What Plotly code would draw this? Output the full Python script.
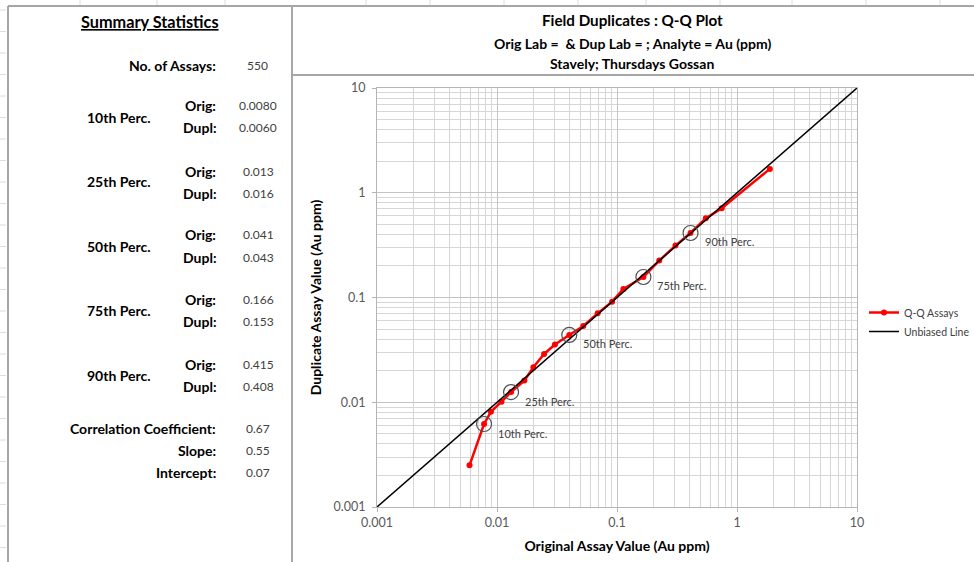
import math
import plotly.graph_objects as go

# ---------------- data ----------------
orig_vals = [0.0059, 0.0078, 0.0089, 0.0109, 0.0131, 0.0169, 0.0201, 0.0247, 0.0304, 0.0400,
             0.0524, 0.069, 0.091, 0.113, 0.166, 0.225, 0.307, 0.410, 0.55, 0.746, 1.88]
dupl_vals = [0.0025, 0.0062, 0.0081, 0.0101, 0.0125, 0.0161, 0.0216, 0.0289, 0.0356, 0.0439,
             0.0534, 0.0706, 0.0912, 0.1205, 0.157, 0.225, 0.313, 0.413, 0.570, 0.711, 1.69]

pct_labels = ["10th Perc.", "25th Perc.", "50th Perc.", "75th Perc.", "90th Perc."]
pct_orig = [0.0078, 0.0131, 0.0400, 0.166, 0.410]
pct_dupl = [0.0062, 0.0125, 0.0439, 0.157, 0.413]

unbiased_x = [0.001, 10]
unbiased_y = [0.001, 10]

tick_vals = [0.001, 0.01, 0.1, 1, 10]
tick_text = ["0.001", "0.01", "0.1", "1", "10"]

stat_groups = ["10th Perc.", "25th Perc.", "50th Perc.", "75th Perc.", "90th Perc."]
stat_orig_txt = ["0.0080", "0.013", "0.041", "0.166", "0.415"]
stat_dupl_txt = ["0.0060", "0.016", "0.043", "0.153", "0.408"]
n_assays = "550"
extra_labels = ["Correlation Coefficient:", "Slope:", "Intercept:"]
extra_values = ["0.67", "0.55", "0.07"]

title_main = "Field Duplicates : Q-Q Plot"
title_sub1 = "Orig Lab =  & Dup Lab = ; Analyte = Au (ppm)"
title_sub2 = "Stavely; Thursdays Gossan"

# ---------------- layout helpers ----------------
W, H = 974, 562
FONT = "Lato"
def px(x):
    return x / W
def py(y):
    return 1 - y / H

minor_vals = [k * 10 ** e for e in range(-3, 1) for k in range(2, 10)]

fig = go.Figure()

fig.add_trace(go.Scatter(
    x=orig_vals, y=dupl_vals, mode="lines+markers", name="Q-Q Assays",
    line=dict(color="#ff0000", width=2.5),
    marker=dict(color="#ff0000", size=6, symbol="circle"),
))
fig.add_trace(go.Scatter(
    x=unbiased_x, y=unbiased_y, mode="lines", name="Unbiased Line",
    line=dict(color="#000000", width=1.5),
))
fig.add_trace(go.Scatter(
    x=pct_orig, y=pct_dupl, mode="markers", showlegend=False,
    marker=dict(symbol="circle-open", size=15, color="#505050", line=dict(width=1.2)),
))

for lab, xv, yv in zip(pct_labels, pct_orig, pct_dupl):
    fig.add_annotation(x=math.log10(xv), y=math.log10(yv), xref="x", yref="y", text=lab,
                       showarrow=False, xanchor="left", yanchor="middle", xshift=12, yshift=-9,
                       font=dict(family=FONT, size=11, color="#404040"))

axis_common = dict(
    type="log", range=[-3, 1], tickvals=tick_vals, ticktext=tick_text,
    showgrid=True, gridcolor="#c4c4c4", gridwidth=1,
    minor=dict(tickvals=minor_vals, showgrid=True, gridcolor="#d6d6d6", gridwidth=1),
    showline=True, linecolor="#b5b5b5", linewidth=1, mirror=True,
    ticks="outside", ticklen=4, tickcolor="#b5b5b5",
    tickfont=dict(family=FONT, size=12.5, color="#595959"),
    zeroline=False, automargin=False,
)

fig.update_layout(
    width=W, height=H,
    margin=dict(l=0, r=0, t=0, b=0, autoexpand=False),
    paper_bgcolor="white", plot_bgcolor="white",
    xaxis=dict(domain=[px(377), px(857)], **axis_common,
               title=dict(text="<b>Original Assay Value (Au ppm)</b>", standoff=12,
                          font=dict(family=FONT, size=14, color="#000000"))),
    yaxis=dict(domain=[py(507), py(88)], **axis_common, ticklabelstandoff=4,
               title=dict(text="<b>Duplicate Assay Value (Au ppm)</b>", standoff=8,
                          font=dict(family=FONT, size=14, color="#000000"))),
    legend=dict(x=px(864), y=py(298), xanchor="left", yanchor="top",
                font=dict(family=FONT, size=10.5, color="#404040"),
                itemwidth=30, bgcolor="rgba(0,0,0,0)"),
    font=dict(family=FONT),
)

# ---------------- panel borders & sheet cell marks ----------------
border = dict(color="#a6a6a6", width=2)
shapes = [
    dict(type="line", xref="paper", yref="paper", x0=px(8), x1=px(974), y0=py(6), y1=py(6), line=border),
    dict(type="line", xref="paper", yref="paper", x0=px(8), x1=px(8), y0=py(6), y1=py(562), line=border),
    dict(type="line", xref="paper", yref="paper", x0=px(292), x1=px(292), y0=py(6), y1=py(562), line=border),
    dict(type="line", xref="paper", yref="paper", x0=px(292), x1=px(974), y0=py(75), y1=py(75), line=border),
]
cell_mark = dict(color="#dcdcdc", width=1)
row_y = [10 + 21.5 * i for i in range(26)]
for ry in row_y:
    shapes.append(dict(type="line", xref="paper", yref="paper", x0=px(0), x1=px(6),
                       y0=py(ry), y1=py(ry), line=cell_mark))
col_x = [80, 157, 225, 366, 430, 504, 578, 646, 720, 792, 866, 940]
for cx in col_x:
    shapes.append(dict(type="line", xref="paper", yref="paper", x0=px(cx), x1=px(cx),
                       y0=py(0), y1=py(5), line=cell_mark))
fig.update_layout(shapes=shapes)

# ---------------- titles (right panel) ----------------
def ann(text, x, y, size, xanchor="center", color="#000000", bold=False):
    t = f"<b>{text}</b>" if bold else text
    fig.add_annotation(x=px(x), y=py(y), xref="paper", yref="paper", text=t, showarrow=False,
                       xanchor=xanchor, yanchor="middle",
                       font=dict(family=FONT, size=size, color=color))

ann(title_main, 632, 20, 15.2, bold=True)
ann(title_sub1, 632, 44, 14, bold=True)
ann(title_sub2, 632, 64, 14, bold=True)

# ---------------- summary statistics (left panel) ----------------
ann("<u>Summary Statistics</u>", 150, 21, 16.3, bold=True)
ann("No. of Assays:", 218, 65, 14, xanchor="right", bold=True)
ann(n_assays, 257, 65, 12, color="#404040")

group_y = [117, 182, 246, 310, 375]
for g, yc, o, d in zip(stat_groups, group_y, stat_orig_txt, stat_dupl_txt):
    ann(g, 119, yc, 14, bold=True)
    ann("Orig:", 218, yc - 11, 14, xanchor="right", bold=True)
    ann("Dupl:", 218, yc + 11, 14, xanchor="right", bold=True)
    ann(o, 258, yc - 11, 12, color="#404040")
    ann(d, 258, yc + 11, 12, color="#404040")

for lab, val, yc in zip(extra_labels, extra_values, [428, 450, 472]):
    ann(lab, 218, yc, 14, xanchor="right", bold=True)
    ann(val, 258, yc, 12, color="#404040")

fig.write_html("out.html")
